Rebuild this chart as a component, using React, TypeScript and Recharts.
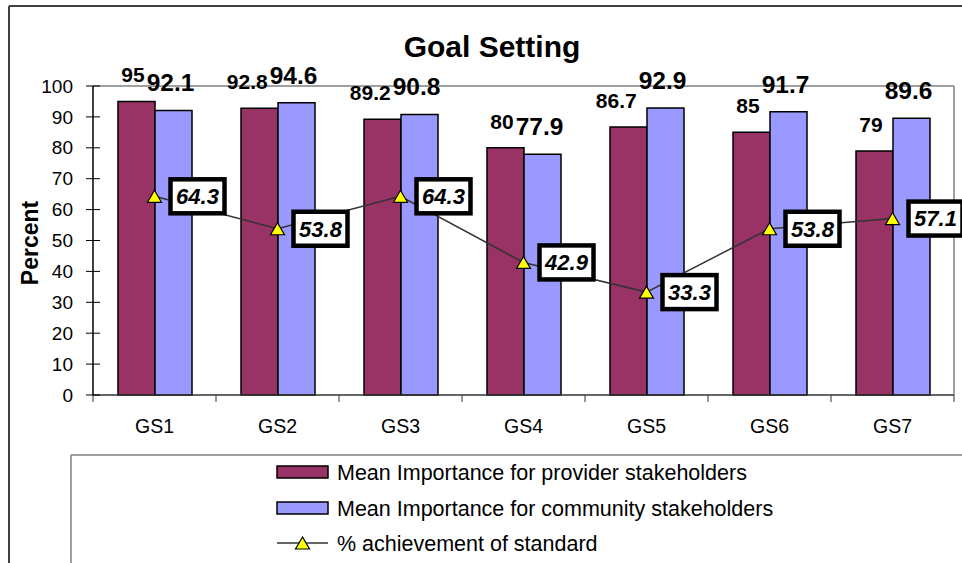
import { ComposedChart, Bar, Line, XAxis, YAxis, LabelList } from 'recharts';

const categories = ['GS1', 'GS2', 'GS3', 'GS4', 'GS5', 'GS6', 'GS7'];
const providerImportance = [95, 92.8, 89.2, 80, 86.7, 85, 79];
const communityImportance = [92.1, 94.6, 90.8, 77.9, 92.9, 91.7, 89.6];
const achievement = [64.3, 53.8, 64.3, 42.9, 33.3, 53.8, 57.1];
const yTicks = [0, 10, 20, 30, 40, 50, 60, 70, 80, 90, 100];

const seriesNames = [
  'Mean Importance for provider stakeholders',
  'Mean Importance for community stakeholders',
  '% achievement of standard',
];

const data = categories.map((name, i) => ({
  name,
  provider: providerImportance[i],
  community: communityImportance[i],
  achievement: achievement[i],
}));

const FONT = '"Liberation Sans", Arial, sans-serif';
const W = 962;
const H = 563;
const PLOT = { left: 93, top: 86, right: 954, bottom: 395 };
const band = (PLOT.right - PLOT.left) / categories.length;
const PROVIDER_SIZE = 21;
const COMMUNITY_SIZE = 24.5;

// rough width of a bold numeric label
const textW = (s: string, size: number) =>
  [...s].reduce((a, c) => a + (c === '.' ? 0.278 : 0.556), 0) * size;

const YTick = (props: any) => {
  const { x, y, payload } = props;
  return (
    <g>
      <line x1={x - 7} x2={x + 7} y1={y} y2={y} stroke="#000" strokeWidth={1} />
      <text x={x - 20} y={y} dy="0.35em" textAnchor="end" fontSize={19} fontFamily={FONT} fill="#000">
        {payload.value}
      </text>
    </g>
  );
};

const XTick = (props: any) => {
  const { x, y, payload, index } = props;
  const last = index === categories.length - 1;
  return (
    <g>
      <line x1={x - band / 2} x2={x - band / 2} y1={y} y2={y + 7} stroke="#333" />
      {last && <line x1={x + band / 2} x2={x + band / 2} y1={y} y2={y + 7} stroke="#333" />}
      <text x={x} y={y + 31} dy="0.35em" textAnchor="middle" fontSize={19.5} fontFamily={FONT} fill="#000">
        {payload.value}
      </text>
    </g>
  );
};

const providerLabel = (props: any) => {
  const vb = props.viewBox || {};
  const x = props.x ?? vb.x;
  const y = props.y ?? vb.y;
  const w = props.width ?? vb.width;
  let cx = x + w / 2 - 1;
  const i = props.index;
  if (i != null && communityImportance[i] != null) {
    // keep clear of the neighbouring community label
    const blueLeft = x + 1.5 * w - 3 - textW(String(communityImportance[i]), COMMUNITY_SIZE) / 2;
    const half = textW(String(props.value), PROVIDER_SIZE) / 2;
    if (cx + half > blueLeft - 2) cx = blueLeft - 2 - half;
  }
  return (
    <text x={cx} y={y - 19} textAnchor="middle" fontSize={PROVIDER_SIZE} fontWeight="bold" fontFamily={FONT} fill="#000">
      {props.value}
    </text>
  );
};

const communityLabel = (props: any) => {
  const vb = props.viewBox || {};
  const x = props.x ?? vb.x;
  const y = props.y ?? vb.y;
  const w = props.width ?? vb.width;
  return (
    <text x={x + w / 2 - 3} y={y - 19} textAnchor="middle" fontSize={COMMUNITY_SIZE} fontWeight="bold" fontFamily={FONT} fill="#000">
      {props.value}
    </text>
  );
};

const lineLabel = (props: any) => {
  const vb = props.viewBox || {};
  const x = props.x ?? vb.x;
  const y = props.y ?? vb.y;
  return (
    <g>
      <rect x={x + 16} y={y - 17} width={54} height={34} fill="#fff" stroke="#000" strokeWidth={4.5} />
      <text x={x + 43} y={y} dy="0.36em" textAnchor="middle" fontSize={22} fontWeight="bold" fontStyle="italic" fontFamily={FONT} fill="#000">
        {props.value}
      </text>
    </g>
  );
};

const Triangle = (props: any) => {
  const { cx, cy } = props;
  if (cx == null || cy == null) return null;
  return (
    <polygon
      points={`${cx},${cy - 6} ${cx - 7},${cy + 6} ${cx + 7},${cy + 6}`}
      fill="#FFFF00"
      stroke="#000"
      strokeWidth={1.2}
    />
  );
};

export default function App() {
  const rows = [472, 508, 543];
  return (
    <div style={{ position: 'absolute', left: 0, top: 0, width: W, height: H, overflow: 'hidden', background: '#fff' }}>
      <svg width={W} height={H} style={{ position: 'absolute', left: 0, top: 0 }}>
        <line x1={9} y1={6} x2={W + 10} y2={6} stroke="#404040" strokeWidth={2} />
        <line x1={9} y1={6} x2={9} y2={H + 10} stroke="#404040" strokeWidth={2} />
        <line x1={PLOT.left} y1={PLOT.top} x2={PLOT.right} y2={PLOT.top} stroke="#808080" strokeWidth={1.5} />
        <line x1={PLOT.right} y1={PLOT.top} x2={PLOT.right} y2={PLOT.bottom} stroke="#808080" strokeWidth={1.5} />
        <text x={492} y={57} textAnchor="middle" fontSize={30} fontWeight="bold" fontFamily={FONT} fill="#000">
          Goal Setting
        </text>
        <text
          x={30}
          y={243}
          dy="0.35em"
          textAnchor="middle"
          fontSize={23}
          fontWeight="bold"
          fontFamily={FONT}
          fill="#000"
          transform="rotate(-90, 30, 243)"
        >
          Percent
        </text>
        <line x1={71} y1={455} x2={W + 10} y2={455} stroke="#808080" strokeWidth={1.5} />
        <line x1={71} y1={455} x2={71} y2={H + 10} stroke="#808080" strokeWidth={1.5} />
        <rect x={277} y={rows[0] - 6} width={51} height={12} fill="#993366" stroke="#000" strokeWidth={1.5} />
        <rect x={277} y={rows[1] - 6} width={51} height={12} fill="#9999FF" stroke="#000" strokeWidth={1.5} />
        <line x1={277} x2={328} y1={rows[2]} y2={rows[2]} stroke="#333" strokeWidth={1.5} />
        <Triangle cx={302.5} cy={rows[2]} />
        {seriesNames.map((s, i) => (
          <text key={s} x={337} y={rows[i]} dy="0.35em" fontSize={21.5} fontFamily={FONT} fill="#000">
            {s}
          </text>
        ))}
      </svg>
      <div style={{ position: 'absolute', left: 0, top: 0 }}>
        <ComposedChart
          width={W}
          height={H}
          data={data}
          margin={{ top: PLOT.top, right: W - PLOT.right, bottom: H - PLOT.bottom - 40, left: PLOT.left - 60 }}
          barCategoryGap={25}
          barGap={0}
        >
          <XAxis
            dataKey="name"
            height={40}
            tick={<XTick />}
            tickLine={false}
            tickSize={0}
            tickMargin={0}
            axisLine={{ stroke: '#333', strokeWidth: 1.5 }}
            interval={0}
          />
          <YAxis
            width={60}
            domain={[0, 100]}
            ticks={yTicks}
            tick={<YTick />}
            tickLine={false}
            tickSize={0}
            tickMargin={0}
            axisLine={{ stroke: '#000', strokeWidth: 1.5 }}
            interval={0}
          />
          <Bar dataKey="provider" fill="#993366" stroke="#000" strokeWidth={1.5} isAnimationActive={false}>
            <LabelList dataKey="provider" content={providerLabel} />
          </Bar>
          <Bar dataKey="community" fill="#9999FF" stroke="#000" strokeWidth={1.5} isAnimationActive={false}>
            <LabelList dataKey="community" content={communityLabel} />
          </Bar>
          <Line
            dataKey="achievement"
            stroke="#333"
            strokeWidth={1.5}
            dot={<Triangle />}
            activeDot={false}
            isAnimationActive={false}
          >
            <LabelList dataKey="achievement" content={lineLabel} />
          </Line>
        </ComposedChart>
      </div>
    </div>
  );
}
